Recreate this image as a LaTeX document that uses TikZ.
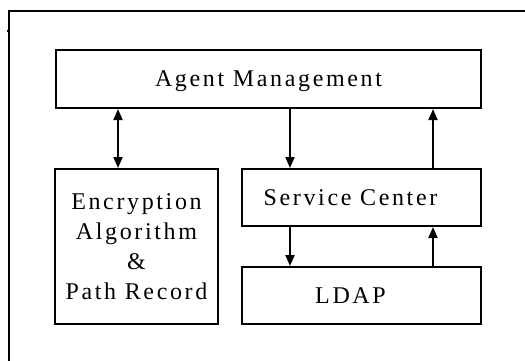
\documentclass[tikz,border=0pt]{standalone}
\usepackage{fontspec}
\setmainfont{Liberation Serif}[LetterSpace=11]
\usetikzlibrary{arrows.meta}
\tikzset{
  blk/.style={draw, line width=2pt, rectangle, inner sep=0pt, align=center,
    font=\fontsize{24}{30}\selectfont},
  arr/.style={line width=2pt, -{Triangle[length=11pt,width=9pt]}},
  darr/.style={line width=2pt, {Triangle[length=11pt,width=9pt]}-{Triangle[length=11pt,width=9pt]}},
  frame/.style={line width=2pt}
}
\begin{document}
\begin{tikzpicture}[x=1pt,y=-1pt]
\useasboundingbox (0,0) rectangle (525,360);
% outer frame
\draw[frame] (9,362) -- (9,10.5) -- (527,10.5);
\draw[line width=1.5pt] (6.5,31) -- (9,31);

% blocks
\node[blk, text depth=0pt, minimum width=425pt, minimum height=58pt] (am) at (268.5,79) {Agent Management};
\node[blk, minimum width=163pt, minimum height=155pt] (enc) at (136.5,246.5)
  {Encryption\\Algorithm\\\&\\Path Record};
\node[blk, minimum width=239pt, minimum height=57pt] (sc) at (361.5,197.5) {\hspace*{-22pt}Service Center};
\node[blk, minimum width=239pt, minimum height=57pt] (ldap) at (361.5,295.5) {\hspace*{-22pt}LDAP};

% connector columns
\coordinate (xa) at (118,0);
\coordinate (xb) at (290,0);
\coordinate (xc) at (433,0);

\draw[darr] (am.south -| xa) -- (enc.north -| xa);
\draw[arr] (am.south -| xb) -- (sc.north -| xb);
\draw[arr] (sc.north -| xc) -- (am.south -| xc);
\draw[arr] (sc.south -| xb) -- (ldap.north -| xb);
\draw[arr] (ldap.north -| xc) -- (sc.south -| xc);
\end{tikzpicture}
\end{document}
